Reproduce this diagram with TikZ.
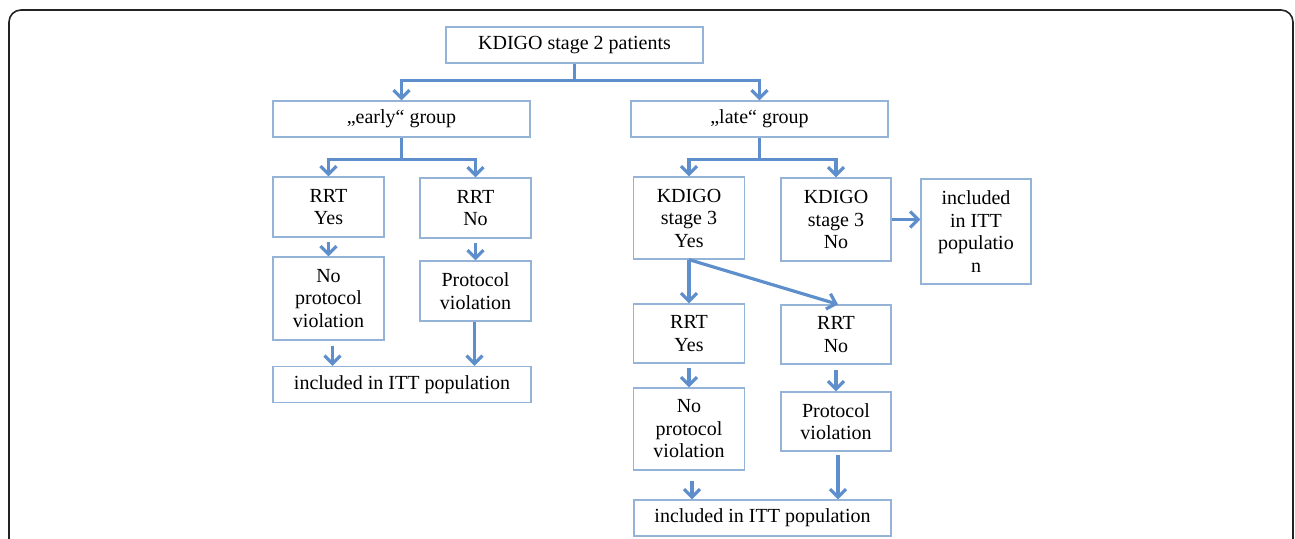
\documentclass[tikz,border=0pt]{standalone}
\usepackage{fontspec}
\setmainfont{Liberation Serif}
\usetikzlibrary{arrows.meta,positioning}
\definecolor{boxblue}{RGB}{149,179,215}
\definecolor{arrowblue}{RGB}{94,142,204}
\definecolor{framegray}{RGB}{35,35,35}
\tikzset{
    flowbox/.style={draw=boxblue, line width=1.3pt, align=center, inner sep=0pt, font=\fontsize{20}{22.5}\selectfont},
    flowarrow/.style={draw=arrowblue, line width=3.2pt, -{Straight Barb[length=8pt,width=16pt]}},
}
\begin{document}
\begin{tikzpicture}[x=1pt, y=-1pt]
        \useasboundingbox (0,0) rectangle (1295,538);
        % outer frame, open at the bottom
        \draw[framegray, line width=1.6pt, rounded corners=12pt] (9,548) -- (9,10) -- (1293,10) -- (1293,548);

        % top and the two groups
        \node[flowbox, minimum width=257pt, minimum height=36pt] (top) at (574.5,45) {KDIGO stage 2 patients};
        \node[flowbox, minimum width=257pt, minimum height=36pt] (early) at (401.5,119) {„early“ group};
        \node[flowbox, minimum width=257pt, minimum height=36pt] (late) at (759.5,119) {„late“ group};
        \draw[flowarrow] (top.south) -- ++(0,17) -| (early.north);
        \draw[flowarrow] (top.south) -- ++(0,17) -| (late.north);

        % early branch
        \node[flowbox, minimum width=111pt, minimum height=60pt] (rrtyesL) at (328.5,207) {RRT\\Yes};
        \node[flowbox, minimum width=111pt, minimum height=60pt] (rrtnoL) at (475.5,208) {RRT\\No};
        \node[flowbox, minimum width=111pt, minimum height=83pt] (noprotL) at (328.5,298.5) {No\\protocol\\violation};
        \node[flowbox, minimum width=111pt, minimum height=60pt] (protL) at (475.5,291) {Protocol\\violation};
        \node[flowbox, minimum width=258pt, minimum height=36pt] (inclL) at (402,384.5) {included in ITT population};
        \draw[flowarrow] (early.south) -- ++(0,22) -| (rrtyesL.north);
        \draw[flowarrow] (early.south) -- ++(0,22) -| (rrtnoL.north);
        \draw[flowarrow, shorten <=4pt] (rrtyesL.south) -- (noprotL.north);
        \draw[flowarrow, shorten <=4pt] (rrtnoL.south) -- (protL.north);
        \draw[flowarrow, shorten <=5pt] ([xshift=4pt]noprotL.south) -- ([xshift=4pt]noprotL.south |- inclL.north);
        \draw[flowarrow] ([xshift=-1pt]protL.south) -- ([xshift=-1pt]protL.south |- inclL.north);

        % late branch
        \node[flowbox, minimum width=111pt, minimum height=82pt] (kdyes) at (689,218) {KDIGO\\stage 3\\Yes};
        \node[flowbox, minimum width=110pt, minimum height=83pt] (kdno) at (836,219.5) {KDIGO\\stage 3\\No};
        \node[flowbox, minimum width=110pt, minimum height=105pt] (inclS) at (976,231.5) {included\\in ITT\\populatio\\n};
        \node[flowbox, minimum width=111pt, minimum height=59pt] (rrtyesR) at (689,333.5) {RRT\\Yes};
        \node[flowbox, minimum width=110pt, minimum height=59pt] (rrtnoR) at (836,334.5) {RRT\\No};
        \node[flowbox, minimum width=111pt, minimum height=82pt] (noprotR) at (689,429) {No\\protocol\\violation};
        \node[flowbox, minimum width=110pt, minimum height=59pt] (protR) at (836,421.5) {Protocol\\violation};
        \node[flowbox, minimum width=257pt, minimum height=36pt] (inclR) at (762.5,518) {included in ITT population};
        \draw[flowarrow] (late.south) -- ++(0,22) -| (kdyes.north);
        \draw[flowarrow] (late.south) -- ++(0,22) -| (kdno.north);
        \draw[flowarrow] (kdno.east) -- (kdno.east -| inclS.west);
        \draw[flowarrow] (kdyes.south) -- (rrtyesR.north);
        \draw[flowarrow] (kdyes.south) -- ([xshift=2pt]rrtnoR.north);
        \draw[flowarrow, shorten <=4pt] (rrtyesR.south) -- (noprotR.north);
        \draw[flowarrow, shorten <=5pt] (rrtnoR.south) -- (protR.north);
        \draw[flowarrow, shorten <=10pt] ([xshift=3pt]noprotR.south) -- ([xshift=3pt]noprotR.south |- inclR.north);
        \draw[flowarrow, shorten <=3pt] ([xshift=2pt]protR.south) -- ([xshift=2pt]protR.south |- inclR.north);
\end{tikzpicture}
\end{document}
